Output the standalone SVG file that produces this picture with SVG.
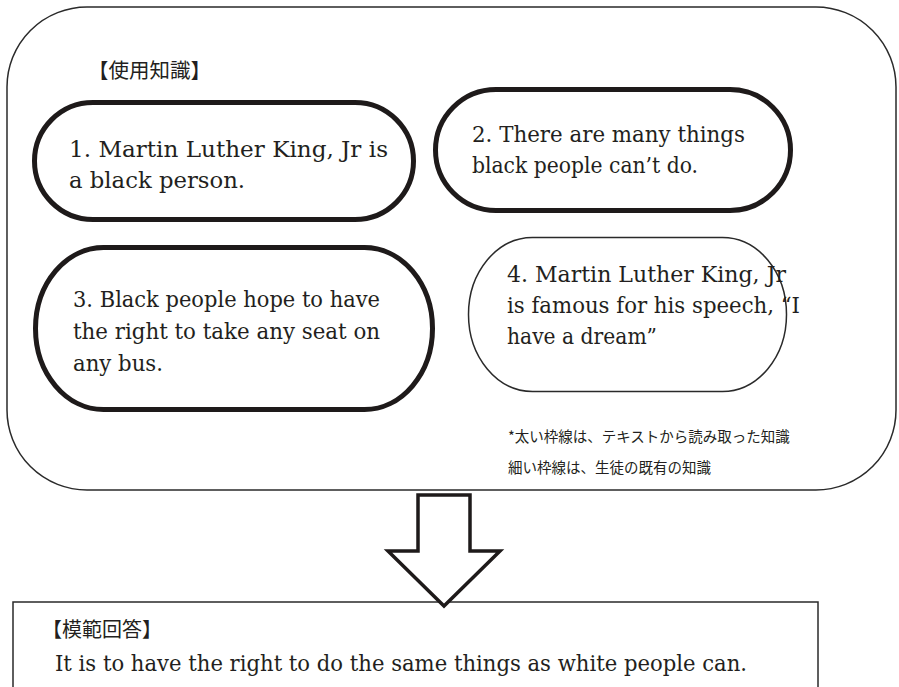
<svg xmlns="http://www.w3.org/2000/svg" width="899" height="687" viewBox="0 0 899 687">
<style>
.frame{fill:#fff;stroke:#2a2a2a;stroke-width:1.5}
.thick{fill:#fff;stroke:#1e1a1a;stroke-width:5}
.thin{fill:#fff;stroke:#2a2a2a;stroke-width:1.5}
.t{font-family:"DejaVu Serif","Liberation Serif",serif;font-size:22px;fill:#231f20}
.jp{font-family:"Noto Sans CJK JP","Noto Sans",sans-serif;fill:#231f20}
.arrow{fill:#fff;stroke:#1e1a1a;stroke-width:3.5;stroke-linejoin:miter}
</style>
<rect width="899" height="687" fill="#fff"/>
<g id="frame">
<rect class="frame" x="7" y="7" width="889" height="483" rx="80" ry="80"/>
<text class="jp" x="88" y="78" font-size="20.5">【使用知識】</text>
<text class="jp" x="508" y="442" font-size="14.5">*太い枠線は、テキストから読み取った知識</text>
<text class="jp" x="508" y="473" font-size="14.5">細い枠線は、生徒の既有の知識</text>
</g>
<g id="node1">
<rect class="thick" x="34.5" y="102.5" width="379" height="117" rx="58.5" ry="58.5"/>
<text class="t" x="69" y="157" textLength="319" lengthAdjust="spacingAndGlyphs">1. Martin Luther King, Jr is</text>
<text class="t" x="69" y="188" textLength="176" lengthAdjust="spacingAndGlyphs">a black person.</text>
</g>
<g id="node2">
<rect class="thick" x="435.5" y="89.5" width="355" height="121" rx="60.5" ry="60.5"/>
<text class="t" x="472" y="142" textLength="273" lengthAdjust="spacingAndGlyphs">2. There are many things</text>
<text class="t" x="472" y="173" textLength="226" lengthAdjust="spacingAndGlyphs">black people can’t do.</text>
</g>
<g id="node3">
<rect class="thick" x="35.5" y="247.5" width="397" height="162" rx="68" ry="81"/>
<text class="t" x="73" y="307" textLength="307" lengthAdjust="spacingAndGlyphs">3. Black people hope to have</text>
<text class="t" x="73" y="339" textLength="307" lengthAdjust="spacingAndGlyphs">the right to take any seat on</text>
<text class="t" x="73" y="371" textLength="90" lengthAdjust="spacingAndGlyphs">any bus.</text>
</g>
<g id="node4">
<rect class="thin" x="468.5" y="237.5" width="318" height="154" rx="64" ry="77"/>
<text class="t" x="507" y="282" textLength="279" lengthAdjust="spacingAndGlyphs">4. Martin Luther King, Jr</text>
<text class="t" x="507" y="313" textLength="293" lengthAdjust="spacingAndGlyphs">is famous for his speech, “I</text>
<text class="t" x="507" y="344" textLength="150" lengthAdjust="spacingAndGlyphs">have a dream”</text>
</g>
<g id="answer">
<rect class="frame" x="13" y="602" width="805" height="100"/>
<text class="jp" x="42" y="637" font-size="20">【模範回答】</text>
<text class="t" x="55" y="671" font-size="23" textLength="692" lengthAdjust="spacingAndGlyphs">It is to have the right to do the same things as white people can.</text>
</g>
<g id="connectors">
<polygon class="arrow" points="418,495 470,495 470,551 500,551 444,606 388,551 418,551"/>
</g>
</svg>
